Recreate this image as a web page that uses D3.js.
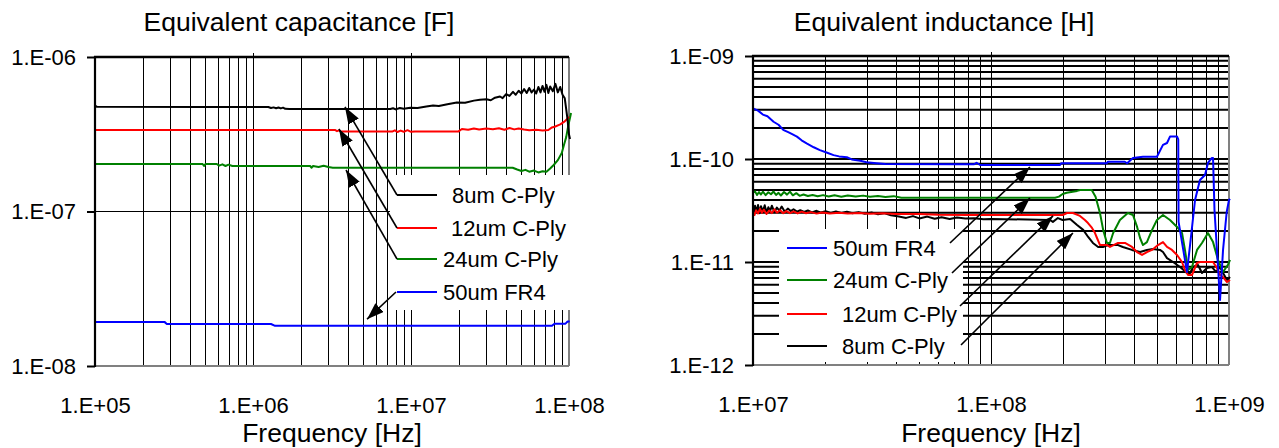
<!DOCTYPE html>
<html><head><meta charset="utf-8">
<script src="https://cdn.jsdelivr.net/npm/d3@7"></script>
<style>
body{margin:0;background:#fff}
svg{display:block}
text{font-family:"Liberation Sans",Arial,sans-serif;fill:#000}
</style>
</head><body>
<svg id="c" width="1279" height="448"></svg>
<script>
// ---------------- DATA ----------------
const seriesNames = ["8um C-Ply", "12um C-Ply", "24um C-Ply", "50um FR4"];
const seriesColors = ["#000000", "#ff0000", "#008000", "#0000ff"];

const capTicksX = [1e5, 1e6, 1e7, 1e8];
const capTicksY = [1e-8, 1e-7, 1e-6];
const indTicksX = [1e7, 1e8, 1e9];
const indTicksY = [1e-12, 1e-11, 1e-10, 1e-9];

// Equivalent capacitance [F] vs frequency [Hz]
const cap8um = [[1e5,4.85e-7],[1.03e5,4.76e-7],[5e5,4.75e-7],[1.25e6,4.75e-7],[1.3e6,4.68e-7],[1.35e6,4.72e-7],[1.4e6,4.66e-7],[1.45e6,4.71e-7],[1.5e6,4.65e-7],[1.55e6,4.70e-7],[1.6e6,4.62e-7],[1.7e6,4.61e-7],[7.4e6,4.61e-7],[7.7e6,4.66e-7],[8.0e6,4.58e-7],[8.5e6,4.68e-7],[9.0e6,4.62e-7],[9.9e6,4.70e-7],[1.1e7,4.68e-7],[1.25e7,4.78e-7],[1.38e7,4.86e-7],[1.5e7,4.82e-7],[1.7e7,4.95e-7],[1.95e7,5.08e-7],[2.2e7,5.05e-7],[2.5e7,5.22e-7],[2.73e7,5.28e-7],[3.0e7,5.32e-7],[3.2e7,5.25e-7],[3.4e7,5.45e-7],[3.66e7,5.55e-7],[3.8e7,5.42e-7],[4.0e7,5.75e-7],[4.2e7,5.6e-7],[4.42e7,5.95e-7],[4.6e7,5.7e-7],[4.8e7,6.05e-7],[5.0e7,5.8e-7],[5.2e7,6.2e-7],[5.4e7,5.85e-7],[5.6e7,6.3e-7],[5.8e7,5.9e-7],[6.0e7,6.15e-7],[6.2e7,5.8e-7],[6.4e7,6.4e-7],[6.6e7,5.9e-7],[6.8e7,6.5e-7],[7.0e7,5.95e-7],[7.2e7,6.6e-7],[7.4e7,5.85e-7],[7.6e7,6.45e-7],[7.9e7,6.0e-7],[8.2e7,6.7e-7],[8.5e7,5.9e-7],[8.8e7,6.4e-7],[9.1e7,5.7e-7],[9.4e7,5.4e-7],[9.6e7,4.6e-7],[9.8e7,3.9e-7],[1e8,3.15e-7],[1.015e8,2.95e-7]];
const cap12um = [[1e5,3.37e-7],[3.3e6,3.37e-7],[3.4e6,3.31e-7],[3.5e6,3.35e-7],[3.6e6,3.29e-7],[7.6e6,3.29e-7],[7.9e6,3.35e-7],[8.2e6,3.27e-7],[8.6e6,3.34e-7],[9.0e6,3.28e-7],[9.5e6,3.36e-7],[1.0e7,3.28e-7],[1.06e7,3.30e-7],[2.0e7,3.30e-7],[2.1e7,3.42e-7],[2.3e7,3.38e-7],[2.5e7,3.45e-7],[2.7e7,3.39e-7],[3.0e7,3.44e-7],[3.3e7,3.41e-7],[3.6e7,3.46e-7],[3.9e7,3.38e-7],[4.2e7,3.47e-7],[4.5e7,3.40e-7],[4.8e7,3.45e-7],[5.2e7,3.39e-7],[5.6e7,3.36e-7],[6.2e7,3.38e-7],[6.8e7,3.35e-7],[7.4e7,3.37e-7],[7.8e7,3.5e-7],[8.2e7,3.55e-7],[8.8e7,3.66e-7],[9.3e7,3.8e-7],[9.7e7,3.95e-7],[1e8,4.1e-7]];
const cap24um = [[1e5,2.03e-7],[4.8e5,2.03e-7],[4.9e5,1.97e-7],[5.0e5,2.03e-7],[5.9e5,2.03e-7],[6.1e5,1.98e-7],[6.4e5,2.02e-7],[6.7e5,1.97e-7],[7.0e5,2.01e-7],[7.4e5,1.97e-7],[2.3e6,1.97e-7],[2.35e6,1.92e-7],[2.4e6,1.97e-7],[2.6e6,1.94e-7],[2.8e6,1.98e-7],[3.0e6,1.94e-7],[3.2e6,1.92e-7],[4.4e7,1.92e-7],[4.7e7,1.87e-7],[5.0e7,1.83e-7],[5.3e7,1.86e-7],[5.6e7,1.81e-7],[6.0e7,1.84e-7],[6.4e7,1.79e-7],[6.8e7,1.82e-7],[7.2e7,1.81e-7],[7.6e7,1.9e-7],[8.0e7,2.0e-7],[8.5e7,2.15e-7],[9.0e7,2.39e-7],[9.3e7,2.7e-7],[9.6e7,3.03e-7],[9.9e7,3.6e-7],[1.03e8,4.34e-7]];
const cap50um = [[1e5,1.93e-8],[2.75e5,1.93e-8],[2.85e5,1.87e-8],[1.3e6,1.87e-8],[1.38e6,1.82e-8],[7.8e7,1.82e-8],[8.1e7,1.88e-8],[9.5e7,1.88e-8],[9.8e7,1.94e-8],[1.01e8,1.94e-8]];

// Equivalent inductance [H] vs frequency [Hz]
const ind50um = [[1.0e7,3.1e-10],[1.05e7,2.95e-10],[1.1e7,2.7e-10],[1.15e7,2.6e-10],[1.22e7,2.3e-10],[1.28e7,2.15e-10],[1.34e7,1.92e-10],[1.42e7,1.8e-10],[1.53e7,1.65e-10],[1.6e7,1.52e-10],[1.68e7,1.42e-10],[1.8e7,1.3e-10],[1.91e7,1.22e-10],[2.05e7,1.15e-10],[2.18e7,1.09e-10],[2.3e7,1.06e-10],[2.48e7,1.04e-10],[2.6e7,0.99e-10],[2.82e7,0.96e-10],[3.0e7,0.93e-10],[3.3e7,0.91e-10],[3.6e7,0.895e-10],[7.4e7,0.89e-10],[8.5e7,0.89e-10],[8.7e7,0.92e-10],[9.0e7,0.875e-10],[1.95e8,0.875e-10],[1.97e8,0.908e-10],[3.06e8,0.908e-10],[3.1e8,0.94e-10],[3.65e8,0.94e-10],[3.73e8,0.91e-10],[3.95e8,1.02e-10],[4.35e8,1.05e-10],[4.98e8,1.05e-10],[5.28e8,1.37e-10],[5.49e8,1.43e-10],[5.65e8,1.65e-10],[6.05e8,1.65e-10],[6.12e8,1.55e-10],[6.14e8,0.245e-10],[6.66e8,0.08e-10],[6.86e8,0.146e-10],[7.2e8,0.4e-10],[7.55e8,0.625e-10],[7.93e8,0.7e-10],[8.16e8,0.915e-10],[8.46e8,1.02e-10],[8.57e8,1.02e-10],[8.69e8,0.32e-10],[9.17e8,0.0428e-10],[9.44e8,0.131e-10],[9.78e8,0.306e-10],[1.0e9,0.4e-10],[1.01e9,0.41e-10]];
const ind24um = [[1.0e7,4.72e-11],[1.02e7,4.85e-11],[1.04e7,4.48e-11],[1.06e7,4.78e-11],[1.08e7,4.52e-11],[1.1e7,4.81e-11],[1.13e7,4.46e-11],[1.16e7,4.76e-11],[1.19e7,4.55e-11],[1.22e7,4.83e-11],[1.25e7,4.47e-11],[1.28e7,4.69e-11],[1.31e7,4.42e-11],[1.35e7,4.78e-11],[1.39e7,4.51e-11],[1.43e7,4.82e-11],[1.47e7,4.44e-11],[1.52e7,4.66e-11],[1.57e7,4.39e-11],[1.63e7,4.52e-11],[1.7e7,4.37e-11],[1.78e7,4.48e-11],[1.87e7,4.35e-11],[1.97e7,4.46e-11],[2.08e7,4.33e-11],[2.2e7,4.44e-11],[2.35e7,4.31e-11],[2.5e7,4.43e-11],[2.7e7,4.32e-11],[2.9e7,4.41e-11],[3.1e7,4.30e-11],[3.35e7,4.38e-11],[3.6e7,4.28e-11],[3.9e7,4.36e-11],[4.2e7,4.21e-11],[1.86e8,4.21e-11],[1.93e8,4.31e-11],[2.0e8,4.57e-11],[2.08e8,4.7e-11],[2.3e8,4.9e-11],[2.37e8,5.0e-11],[2.65e8,5.0e-11],[2.75e8,4.31e-11],[2.87e8,2.99e-11],[2.96e8,2.05e-11],[3.07e8,1.53e-11],[3.16e8,1.53e-11],[3.26e8,1.91e-11],[3.48e8,2.56e-11],[3.76e8,2.99e-11],[3.95e8,2.86e-11],[4.11e8,2.19e-11],[4.23e8,1.71e-11],[4.35e8,1.46e-11],[4.52e8,1.56e-11],[4.75e8,2.05e-11],[4.98e8,2.56e-11],[5.28e8,2.86e-11],[5.65e8,2.56e-11],[6.05e8,2.19e-11],[6.35e8,1.91e-11],[6.53e8,1.31e-11],[6.73e8,0.836e-11],[6.99e8,0.894e-11],[7.34e8,1.31e-11],[7.7e8,1.53e-11],[8.16e8,1.91e-11],[8.57e8,1.56e-11],[8.99e8,1.05e-11],[9.44e8,0.8e-11],[9.9e8,0.94e-11],[1.01e9,1.05e-11]];
const ind12um = [[1.0e7,3.05e-11],[1.015e7,2.86e-11],[1.03e7,3.18e-11],[1.05e7,2.96e-11],[1.07e7,3.28e-11],[1.09e7,3.0e-11],[1.11e7,3.22e-11],[1.14e7,2.93e-11],[1.17e7,3.16e-11],[1.2e7,2.98e-11],[1.23e7,3.25e-11],[1.26e7,3.01e-11],[1.3e7,3.18e-11],[1.34e7,2.97e-11],[1.38e7,3.12e-11],[1.43e7,2.98e-11],[1.48e7,3.1e-11],[1.54e7,2.96e-11],[1.6e7,3.08e-11],[1.67e7,2.97e-11],[1.75e7,3.05e-11],[1.85e7,2.95e-11],[1.95e7,3.03e-11],[2.1e7,2.96e-11],[2.3e7,3.01e-11],[2.5e7,2.95e-11],[2.8e7,2.99e-11],[3.1e7,2.94e-11],[3.5e7,2.97e-11],[4.0e7,2.92e-11],[5.0e7,2.92e-11],[6.0e7,2.88e-11],[8.0e7,2.86e-11],[2.0e8,2.86e-11],[2.086e8,2.99e-11],[2.21e8,2.99e-11],[2.365e8,2.8e-11],[2.48e8,2.56e-11],[2.556e8,2.39e-11],[2.657e8,2.14e-11],[2.735e8,1.91e-11],[2.789e8,1.71e-11],[2.871e8,1.46e-11],[3.073e8,1.46e-11],[3.162e8,1.4e-11],[3.417e8,1.53e-11],[3.656e8,1.53e-11],[3.912e8,1.4e-11],[4.106e8,1.25e-11],[4.311e8,1.17e-11],[4.523e8,1.25e-11],[4.748e8,1.31e-11],[5.03e8,1.46e-11],[5.28e8,1.56e-11],[5.49e8,1.4e-11],[5.76e8,1.31e-11],[6.05e8,1.17e-11],[6.345e8,1.0e-11],[6.53e8,0.836e-11],[6.73e8,0.748e-11],[6.99e8,0.748e-11],[7.34e8,0.978e-11],[7.55e8,1.0e-11],[8.08e8,1.0e-11],[8.57e8,1.0e-11],[8.9e8,0.874e-11],[9.17e8,0.748e-11],[9.44e8,0.715e-11],[9.81e8,0.639e-11],[1.01e9,0.669e-11]];
const ind8um = [[1.0e7,3.45e-11],[1.01e7,2.95e-11],[1.02e7,3.52e-11],[1.035e7,3.05e-11],[1.05e7,3.57e-11],[1.065e7,2.98e-11],[1.08e7,3.48e-11],[1.1e7,3.1e-11],[1.12e7,3.55e-11],[1.14e7,3.02e-11],[1.16e7,3.4e-11],[1.18e7,3.12e-11],[1.2e7,3.52e-11],[1.23e7,3.05e-11],[1.26e7,3.38e-11],[1.29e7,3.15e-11],[1.32e7,3.45e-11],[1.36e7,3.08e-11],[1.4e7,3.3e-11],[1.44e7,3.12e-11],[1.48e7,3.25e-11],[1.53e7,3.08e-11],[1.58e7,3.18e-11],[1.64e7,3.06e-11],[1.7e7,3.16e-11],[1.77e7,3.03e-11],[1.85e7,3.14e-11],[1.93e7,3.02e-11],[2.02e7,3.12e-11],[2.12e7,3.0e-11],[2.23e7,3.1e-11],[2.35e7,2.99e-11],[2.48e7,3.08e-11],[2.62e7,2.97e-11],[2.78e7,3.05e-11],[2.95e7,2.94e-11],[3.15e7,3.03e-11],[3.35e7,2.9e-11],[3.55e7,2.98e-11],[3.8e7,2.84e-11],[4.1e7,2.76e-11],[4.4e7,2.68e-11],[4.7e7,2.79e-11],[5.0e7,2.65e-11],[5.4e7,2.76e-11],[5.8e7,2.63e-11],[6.2e7,2.72e-11],[6.7e7,2.62e-11],[7.2e7,2.7e-11],[7.8e7,2.64e-11],[8.5e7,2.66e-11],[9.3e7,2.6e-11],[1.0e8,2.62e-11],[1.77e8,2.56e-11],[1.82e8,2.45e-11],[1.91e8,2.67e-11],[2.0e8,2.56e-11],[2.15e8,2.62e-11],[2.3e8,2.29e-11],[2.44e8,2.05e-11],[2.56e8,1.75e-11],[2.68e8,1.53e-11],[2.82e8,1.4e-11],[2.955e8,1.4e-11],[3.1e8,1.46e-11],[3.42e8,1.46e-11],[3.58e8,1.4e-11],[3.91e8,1.31e-11],[4.23e8,1.25e-11],[4.52e8,1.31e-11],[4.79e8,1.34e-11],[5.13e8,1.31e-11],[5.28e8,1.25e-11],[5.49e8,1.09e-11],[5.82e8,1.0e-11],[6.23e8,0.894e-11],[6.66e8,0.782e-11],[6.86e8,0.782e-11],[7.06e8,0.894e-11],[7.41e8,0.935e-11],[7.7e8,0.782e-11],[8.08e8,0.874e-11],[8.48e8,0.894e-11],[8.82e8,0.8e-11],[9.17e8,0.894e-11],[9.44e8,0.782e-11],[9.81e8,0.669e-11],[1.01e9,0.715e-11]];

// ---------------- DRAWING ----------------
const svg = d3.select("#c");
const FONT = '"Liberation Sans", Arial, sans-serif';

const defs = svg.append("defs");
defs.append("marker").attr("id","arr")
  .attr("viewBox","0 0 17 12").attr("refX",17).attr("refY",6)
  .attr("markerWidth",17).attr("markerHeight",12)
  .attr("markerUnits","userSpaceOnUse").attr("orient","auto")
  .append("path").attr("d","M0,0L17,6L0,12Z").attr("fill","#000");

function fmtExp(d){
  const e = Math.round(Math.log10(d));
  return "1.E" + (e < 0 ? "-" : "+") + String(Math.abs(e)).padStart(2,"0");
}
const isMajor = t => Math.abs(Math.log10(t) - Math.round(Math.log10(t))) < 1e-6;

function drawChart(cfg){
  const g = svg.append("g");
  const x = d3.scaleLog().domain(cfg.xDomain).range(cfg.xRange);
  const y = d3.scaleLog().domain(cfg.yDomain).range(cfg.yRange);
  const [x0,x1] = cfg.xRange, [y0,y1] = cfg.yRange; // y0 bottom, y1 top

  // vertical gridlines
  const vt = x.ticks().filter(t => t > cfg.xDomain[0]*1.001 && t < cfg.xDomain[1]*0.999);
  g.append("g").selectAll("line").data(vt).join("line")
    .attr("x1", d => Math.round(x(d))+0.5).attr("x2", d => Math.round(x(d))+0.5)
    .attr("y1", y0).attr("y2", d => isMajor(d) ? y1-4 : y1)
    .attr("stroke","#000").attr("stroke-width",1);

  // horizontal gridlines
  const ht = y.ticks().filter(t => t > cfg.yDomain[0]*1.001 && t < cfg.yDomain[1]*0.999)
    .filter(t => cfg.minorY || isMajor(t));
  g.append("g").selectAll("line").data(ht).join("line")
    .attr("x1", x0).attr("x2", x1)
    .attr("y1", d => y(d)).attr("y2", d => y(d))
    .attr("stroke","#000").attr("stroke-width", cfg.hGridW);

  // right border (gray)
  g.append("line").attr("x1",x1).attr("x2",x1).attr("y1",y1).attr("y2",y0)
    .attr("stroke","#808080").attr("stroke-width",2);

  // series
  const line = d3.line().x(d => x(d[0])).y(d => y(d[1]));
  cfg.order.forEach(i => {
    g.append("path").datum(cfg.series[i]).attr("d", line)
      .attr("fill","none").attr("stroke", seriesColors[i])
      .attr("stroke-width", 2).attr("stroke-linejoin","round");
  });

  // legend box (white, covers the grid)
  const lb = cfg.legendBox;
  g.append("rect").attr("x",lb.x).attr("y",lb.y).attr("width",lb.w).attr("height",lb.h).attr("fill","#fff");

  cfg.legend.forEach(it => {
    g.append("line").attr("x1",it.lx0).attr("x2",it.lx1).attr("y1",it.ly).attr("y2",it.ly)
      .attr("stroke", seriesColors[it.s]).attr("stroke-width",2);
    g.append("text").attr("x",it.tx).attr("y",it.ly).attr("dy","0.35em")
      .style("font-size","22px").text(seriesNames[it.s]);
    // leader with arrow pointing at the curve
    g.append("line").attr("x1",it.sx).attr("y1",it.sy)
      .attr("x2", x(it.tip[0])).attr("y2", y(it.tip[1]))
      .attr("stroke","#000").attr("stroke-width",1.6).attr("marker-end","url(#arr)");
  });

  // bottom axis line (gray)
  g.append("line").attr("x1",x0).attr("x2",x1).attr("y1",y0).attr("y2",y0)
    .attr("stroke","#808080").attr("stroke-width",2);
  // top border (black)
  g.append("line").attr("x1",x0-1).attr("x2",x1).attr("y1",y1).attr("y2",y1)
    .attr("stroke","#000").attr("stroke-width",2.5);

  // Y axis
  const ya = g.append("g").attr("transform",`translate(${x0},0)`)
    .call(d3.axisLeft(y).tickValues(cfg.yTicks).tickFormat(fmtExp).tickSize(8).tickPadding(11));
  ya.select(".domain").remove();
  ya.selectAll(".tick line").attr("stroke","#000").attr("stroke-width",2);
  ya.selectAll("text").style("font-size","22px").style("font-family",FONT).attr("fill","#000");
  g.append("line").attr("x1",x0).attr("x2",x0).attr("y1",y1-1).attr("y2",y0+1)
    .attr("stroke","#000").attr("stroke-width",2.2);

  // X axis labels
  const xa = g.append("g").attr("transform",`translate(0,${y0})`)
    .call(d3.axisBottom(x).tickValues(cfg.xTicks).tickFormat(fmtExp).tickSize(0).tickPadding(31));
  xa.select(".domain").remove();
  xa.selectAll("text").style("font-size","22px").style("font-family",FONT).attr("fill","#000");

  // titles
  g.append("text").attr("x",cfg.titleX).attr("y",30.5).attr("text-anchor","middle")
    .style("font-size","26.5px").text(cfg.title);
  g.append("text").attr("x",(x0+x1)/2).attr("y",442).attr("text-anchor","middle")
    .style("font-size","26.5px").text("Frequency [Hz]");
}

drawChart({
  xDomain:[1e5,1e8], xRange:[95,569],
  yDomain:[1e-8,1e-6], yRange:[366,57],
  xTicks:capTicksX, yTicks:capTicksY,
  minorY:false, hGridW:1,
  series:[cap8um, cap12um, cap24um, cap50um],
  order:[3,2,1,0],
  title:"Equivalent capacitance [F]", titleX:299,
  legendBox:{x:390,y:175,w:181,h:135},
  legend:[
    {s:0, lx0:397, lx1:437, ly:195, tx:452, sx:397, sy:195, tip:[3.82e6,4.75e-7]},
    {s:1, lx0:397, lx1:437, ly:228, tx:451, sx:397, sy:228, tip:[3.5e6,3.42e-7]},
    {s:2, lx0:397, lx1:437, ly:259, tx:443, sx:397, sy:259, tip:[3.88e6,1.856e-7]},
    {s:3, lx0:397, lx1:437, ly:292, tx:443, sx:396, sy:292, tip:[5.27e6,2.01e-8]}
  ]
});

drawChart({
  xDomain:[1e7,1e9], xRange:[753,1229],
  yDomain:[1e-12,1e-9], yRange:[365,56],
  xTicks:indTicksX, yTicks:indTicksY,
  minorY:true, hGridW:2,
  series:[ind8um, ind12um, ind24um, ind50um],
  order:[0,1,2,3],
  title:"Equivalent inductance [H]", titleX:944,
  legendBox:{x:779,y:229,w:184,h:133},
  legend:[
    {s:3, lx0:787, lx1:827, ly:248, tx:833, sx:950, sy:243, tip:[1.458e8,8.36e-11]},
    {s:2, lx0:787, lx1:827, ly:280, tx:833, sx:952, sy:273, tip:[1.458e8,4.18e-11]},
    {s:1, lx0:787, lx1:827, ly:314, tx:842, sx:960, sy:306, tip:[1.822e8,2.8e-11]},
    {s:0, lx0:787, lx1:827, ly:346, tx:842, sx:961, sy:345, tip:[2.21e8,1.91e-11]}
  ]
});
</script>
</body></html>
